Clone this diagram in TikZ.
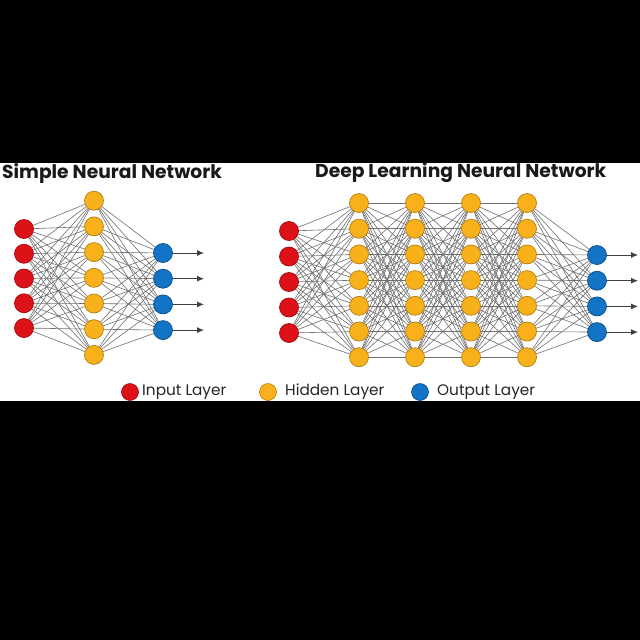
\documentclass[tikz,border=0pt]{standalone}
\usepackage{fontspec}
\setmainfont{Poppins}
\usetikzlibrary{arrows.meta}
\pgfdeclarelayer{bgzero}
\pgfdeclarelayer{edges}
\pgfsetlayers{bgzero,edges,main}
\definecolor{inred}{HTML}{DD1118}
\definecolor{inredd}{HTML}{A50A10}
\definecolor{hidy}{HTML}{F8B11A}
\definecolor{hidyd}{HTML}{B77E10}
\definecolor{outb}{HTML}{1374C6}
\definecolor{outbd}{HTML}{0B4E8A}
\definecolor{edgegray}{HTML}{707070}
\tikzset{
  neuron/.style={circle, minimum size=19pt, inner sep=0pt, line width=0.7pt},
  innode/.style={neuron, fill=inred, draw=inredd},
  hidnode/.style={neuron, fill=hidy, draw=hidyd},
  outnode/.style={neuron, fill=outb, draw=outbd},
  conn/.style={draw=edgegray, line width=0.6pt},
  outarrow/.style={draw=black!75, line width=0.9pt, -{Latex[length=7pt,width=6pt]}},
  legdot/.style={circle, minimum size=17pt, inner sep=0pt, line width=0.6pt},
  title/.style={font=\fontsize{18.7}{22}\selectfont\bfseries, text=black!90, inner sep=0pt},
  legtext/.style={font=\fontsize{15.3}{18}\selectfont, text=black!85, inner sep=0pt, anchor=west}
}
\begin{document}
\begin{tikzpicture}[x=1pt,y=-1pt]
\useasboundingbox (0,0) rectangle (640,640);
\begin{pgfonlayer}{bgzero}
\fill[black] (0,0) rectangle (640,640);
\fill[white] (0,163) rectangle (640,401);
\end{pgfonlayer}

% titles
\node[title, anchor=west] (t1) at (2,173) {Simple Neural Network};
\node[title, anchor=west] (t2) at (315,173) {Deep Learning Neural Network};

% ---- simple network ----
\foreach \k in {1,...,5} \node[innode] (si\k) at (24,{229+24.75*(\k-1)}) {};
\foreach \k in {1,...,7} \node[hidnode] (sh\k) at (94,{200.7+25.7*(\k-1)}) {};
\foreach \k in {1,...,4} {
  \node[outnode] (so\k) at (163,{253+25.7*(\k-1)}) {};
  \coordinate (se\k) at (204,{253+25.7*(\k-1)});
}
\begin{pgfonlayer}{edges}
\foreach \a in {1,...,5} \foreach \b in {1,...,7} \draw[conn] (si\a.center) -- (sh\b.center);
\foreach \a in {1,...,7} \foreach \b in {1,...,4} \draw[conn] (sh\a.center) -- (so\b.center);
\end{pgfonlayer}
\foreach \k in {1,...,4} \draw[outarrow] (so\k) -- (se\k);

% ---- deep network ----
\foreach \k in {1,...,5} \node[innode] (di\k) at (289,{231+25.5*(\k-1)}) {};
\foreach \L/\xx in {1/359,2/415,3/471,4/527}
  \foreach \k in {1,...,7} \node[hidnode] (dh\L-\k) at (\xx,{203+25.7*(\k-1)}) {};
\foreach \k in {1,...,4} {
  \node[outnode] (do\k) at (597,{255+25.7*(\k-1)}) {};
  \coordinate (de\k) at (638,{255+25.7*(\k-1)});
}
\begin{pgfonlayer}{edges}
\foreach \a in {1,...,5} \foreach \b in {1,...,7} \draw[conn] (di\a.center) -- (dh1-\b.center);
\foreach \L/\M in {1/2,2/3,3/4}
  \foreach \a in {1,...,7} \foreach \b in {1,...,7} \draw[conn] (dh\L-\a.center) -- (dh\M-\b.center);
\foreach \a in {1,...,7} \foreach \b in {1,...,4} \draw[conn] (dh4-\a.center) -- (do\b.center);
\end{pgfonlayer}
\foreach \k in {1,...,4} \draw[outarrow] (do\k) -- (de\k);

% ---- legend ----
\node[legdot, fill=inred, draw=inredd] (l1) at (130,392) {};
\node[legtext] (lt1) at (142,392) {Input Layer};
\node[legdot, fill=hidy, draw=hidyd] (l2) at (268,392) {};
\node[legtext] (lt2) at (285,392) {Hidden Layer};
\node[legdot, fill=outb, draw=outbd] (l3) at (420,392) {};
\node[legtext] (lt3) at (437,392) {Output Layer};
\end{tikzpicture}
\end{document}
